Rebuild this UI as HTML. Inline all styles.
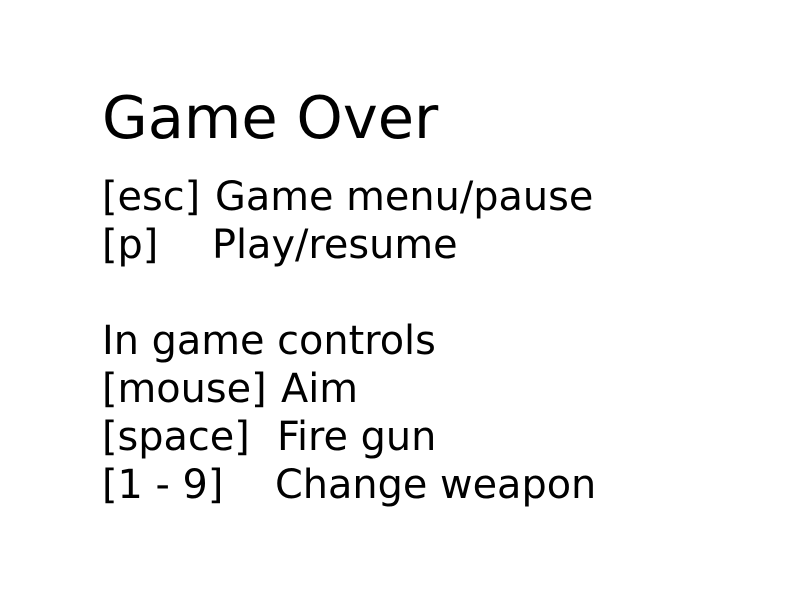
<!DOCTYPE html>
<html><head><meta charset="utf-8"><style>
body{margin:0;width:800px;height:600px;background:#fff;position:relative;overflow:hidden;font-family:"DejaVu Sans","Liberation Sans",sans-serif;color:#000}
div{position:absolute;white-space:pre;font-size:39.8px;line-height:48px}
.t{font-size:59px;line-height:70px}
</style></head><body>
<div class="t" style="left:102px;top:83px">Game Over</div>
<div style="left:102px;top:173px">[esc]</div><div style="left:215px;top:173px">Game menu/pause</div>
<div style="left:102px;top:221px">[p]</div><div style="left:212px;top:221px">Play/resume</div>
<div style="left:102px;top:317px">In game controls</div>
<div style="left:102px;top:365px">[mouse]</div><div style="left:281px;top:365px">Aim</div>
<div style="left:102px;top:413px">[space]</div><div style="left:277px;top:413px">Fire gun</div>
<div style="left:102px;top:461px">[1 - 9]</div><div style="left:275px;top:461px">Change weapon</div>
</body></html>
